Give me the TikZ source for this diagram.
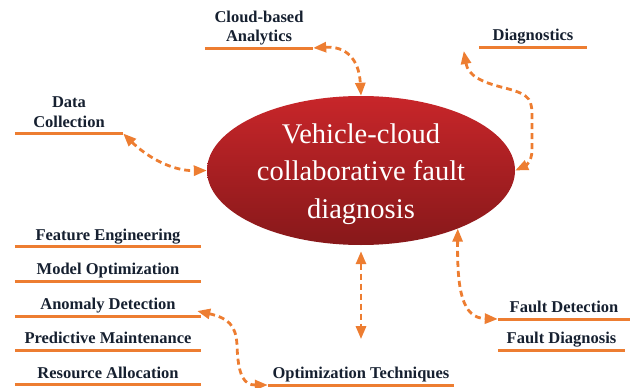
\documentclass[tikz,border=0pt]{standalone}
\usepackage{fontspec}
\setmainfont{Liberation Serif}
\usepackage{tikz}
\usetikzlibrary{shapes.geometric, arrows.meta}
\definecolor{hubtop}{RGB}{200, 38, 42}
\definecolor{hubbot}{RGB}{135, 24, 26}
\definecolor{barline}{RGB}{237, 125, 49}
\definecolor{labeltxt}{RGB}{22, 32, 48}

\begin{document}
\begin{tikzpicture}[x=1pt, y=-1pt,
		topic/.style={anchor=south, inner xsep=0pt, inner ysep=6pt, text depth=0pt, align=center,
			text=labeltxt, font=\fontsize{16.5}{19.5}\selectfont\bfseries},
		bar/.style={barline, line width=3pt},
		link/.style={barline, line width=2.8pt, dash pattern=on 6pt off 4pt,
			{Triangle[length=13pt, width=10pt]}-{Triangle[length=13pt, width=10pt]}},
		hub/.style={ellipse, minimum width=308pt, minimum height=149pt, inner sep=0pt,
			top color=hubtop, bottom color=hubbot}]
			\useasboundingbox (0,0) rectangle (630,388);

			\def\sw{108pt}
			\def\lw{186pt}

			% central ellipse
			\node[hub] (hub) at (361,170.5) {};
			\node[text=white, align=center, font=\fontsize{28.5}{37.5}\selectfont] (hubtxt) at (361,174) {Vehicle-cloud\\collaborative fault\\diagnosis};

			% top and side topics
			\node[topic, minimum width=\sw] (cloud) at (259,48) {Cloud-based\\Analytics};
			\node[topic, minimum width=\sw] (diag) at (533,47) {Diagnostics};
			\node[topic, minimum width=\sw] (data) at (69,133.5) {Data\\Collection};

			% left column
			\node[topic, minimum width=\lw] (feat) at (108,246.5) {Feature Engineering};
			\node[topic, minimum width=\lw] (model) at (108,281) {Model Optimization};
			\node[topic, minimum width=\lw] (anom) at (108,316) {Anomaly Detection};
			\node[topic, minimum width=\lw] (pred) at (108,350) {Predictive Maintenance};
			\node[topic, minimum width=\lw] (res) at (108,384.5) {Resource Allocation};

			% bottom and right
			\node[topic, minimum width=\lw] (optim) at (361,385) {Optimization Techniques};
			\node[topic, minimum width=132pt] (fdet) at (564,319) {Fault Detection};
			\node[topic, minimum width=127pt] (fdiag) at (561.5,350) {Fault Diagnosis};

			% underlines
			\draw[bar] (cloud.south west) -- (cloud.south east);
			\draw[bar] (diag.south west) -- (diag.south east);
			\draw[bar] (data.south west) -- (data.south east);
			\draw[bar] (feat.south west) -- (feat.south east);
			\draw[bar] (model.south west) -- (model.south east);
			\draw[bar] (anom.south west) -- (anom.south east);
			\draw[bar] (pred.south west) -- (pred.south east);
			\draw[bar] (res.south west) -- (res.south east);
			\draw[bar] (optim.south west) -- (optim.south east);
			\draw[bar] (fdet.south west) -- (fdet.south east);
			\draw[bar] (fdiag.south west) -- (fdiag.south east);

			% dashed links
			\draw[link] (cloud.south east) .. controls (345,46) and (359,58) .. (hub.north);
			\draw[link] ([shift={(-15,4)}]diag.south west) .. controls (468,75) and (480,82) .. (505,88)
				.. controls (532,95) and (532,100) .. (532,120) -- (532,150)
				.. controls (532,162) and (525,166) .. (hub.east);
			\draw[link] (data.south east) .. controls (145,155) and (170,171) .. (hub.west);
			\draw[link] ([yshift=-6pt]hub.south) -- ([yshift=22pt]optim.north);
			\draw[link] (hub.-31) .. controls (457,290) and (462,318) .. (fdet.south west);
			\draw[link] ([shift={(-4,-5)}]anom.south east) .. controls (228,318) and (236,325) .. (237,345)
				.. controls (238,378) and (245,385) .. (optim.south west);

		\end{tikzpicture}
\end{document}
